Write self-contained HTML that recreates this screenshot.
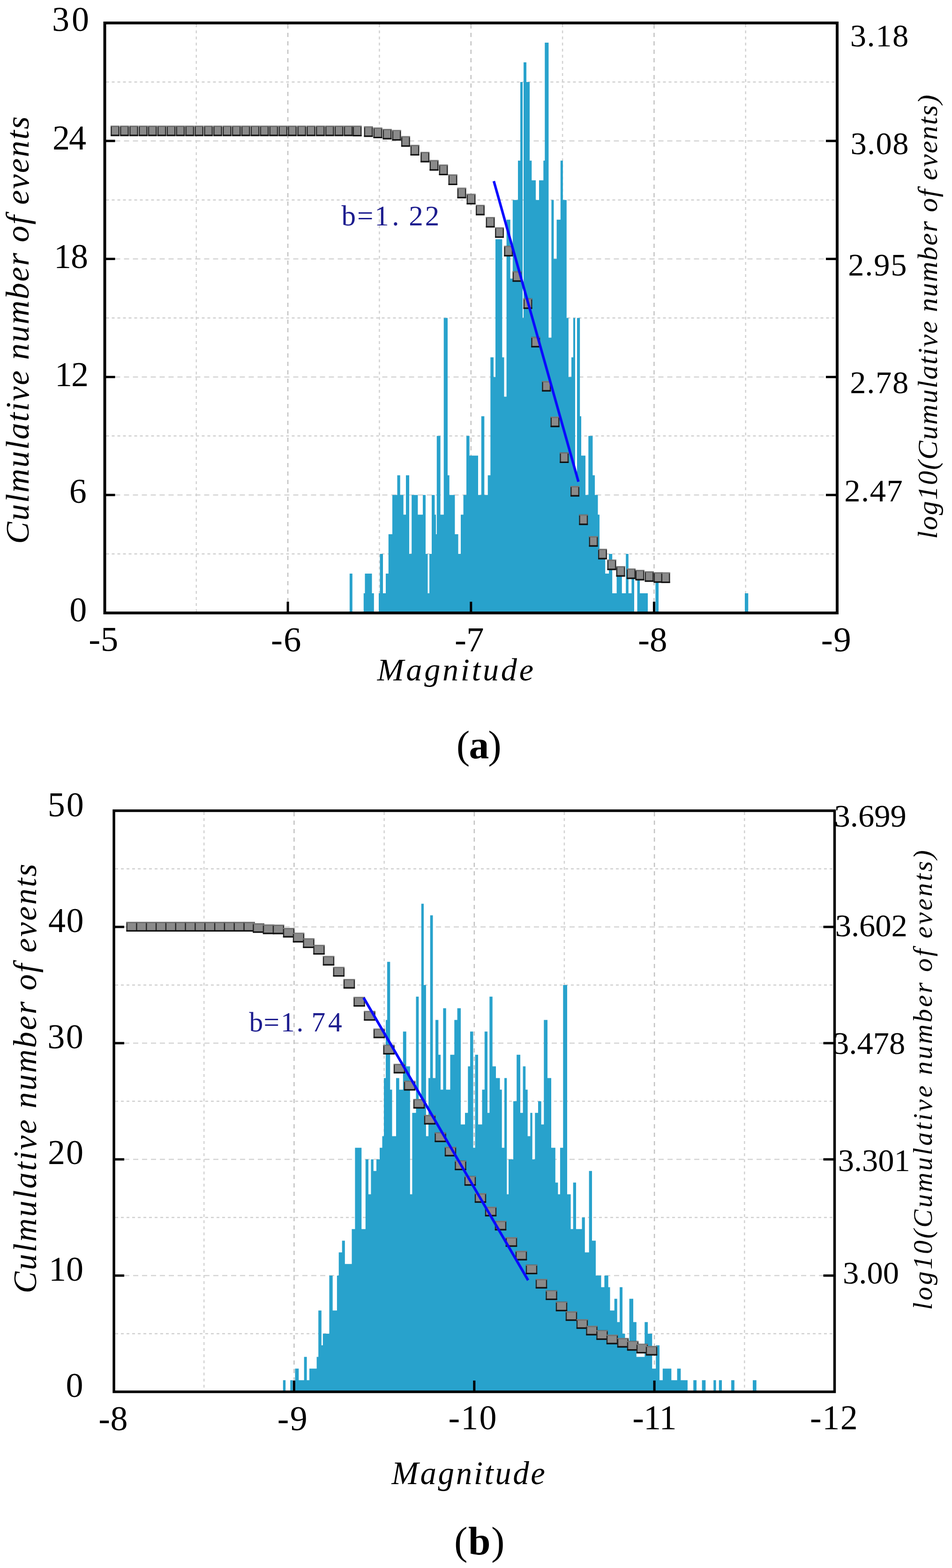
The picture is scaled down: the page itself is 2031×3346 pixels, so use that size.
<!DOCTYPE html>
<html><head><meta charset="utf-8"><title>Magnitude distribution (a) and (b)</title>
<style>
html,body{margin:0;padding:0;background:#fff;}
svg{display:block;}
</style></head><body>
<svg width="2031" height="3346" viewBox="0 0 2031 3346" font-family="'Liberation Serif', 'Times New Roman', serif">
<rect width="2031" height="3346" fill="#fff"/>
<g id="plot-a">
<line x1="226.5" y1="1182.1" x2="1783.0" y2="1182.1" stroke="#d0d0d0" stroke-width="2.5" stroke-dasharray="6 6"/>
<line x1="226.5" y1="1056.2" x2="1783.0" y2="1056.2" stroke="#d4d4d4" stroke-width="2.5" stroke-dasharray="11 8"/>
<line x1="226.5" y1="930.3" x2="1783.0" y2="930.3" stroke="#d0d0d0" stroke-width="2.5" stroke-dasharray="6 6"/>
<line x1="226.5" y1="804.4" x2="1783.0" y2="804.4" stroke="#d4d4d4" stroke-width="2.5" stroke-dasharray="11 8"/>
<line x1="226.5" y1="678.5" x2="1783.0" y2="678.5" stroke="#d0d0d0" stroke-width="2.5" stroke-dasharray="6 6"/>
<line x1="226.5" y1="552.6" x2="1783.0" y2="552.6" stroke="#d4d4d4" stroke-width="2.5" stroke-dasharray="11 8"/>
<line x1="226.5" y1="426.7" x2="1783.0" y2="426.7" stroke="#d0d0d0" stroke-width="2.5" stroke-dasharray="6 6"/>
<line x1="226.5" y1="300.8" x2="1783.0" y2="300.8" stroke="#d4d4d4" stroke-width="2.5" stroke-dasharray="11 8"/>
<line x1="226.5" y1="174.9" x2="1783.0" y2="174.9" stroke="#d0d0d0" stroke-width="2.5" stroke-dasharray="6 6"/>
<line x1="418.8" y1="52.0" x2="418.8" y2="1305.0" stroke="#d2d2d2" stroke-width="2.5" stroke-dasharray="6 7"/>
<line x1="614.1" y1="52.0" x2="614.1" y2="1305.0" stroke="#c2c2c2" stroke-width="2.5" stroke-dasharray="9 9"/>
<line x1="809.4" y1="52.0" x2="809.4" y2="1305.0" stroke="#d2d2d2" stroke-width="2.5" stroke-dasharray="6 7"/>
<line x1="1004.8" y1="52.0" x2="1004.8" y2="1305.0" stroke="#c2c2c2" stroke-width="2.5" stroke-dasharray="9 9"/>
<line x1="1200.1" y1="52.0" x2="1200.1" y2="1305.0" stroke="#d2d2d2" stroke-width="2.5" stroke-dasharray="6 7"/>
<line x1="1395.4" y1="52.0" x2="1395.4" y2="1305.0" stroke="#c2c2c2" stroke-width="2.5" stroke-dasharray="9 9"/>
<line x1="1590.7" y1="52.0" x2="1590.7" y2="1305.0" stroke="#d2d2d2" stroke-width="2.5" stroke-dasharray="6 7"/>
<path d="M745.9 1308.0V1224.1H751.8V1308.0ZM775.8 1308.0V1266.0H778.5V1308.0ZM778.5 1308.0V1224.1H793.5V1308.0ZM793.5 1308.0V1266.0H797.8V1308.0ZM808.0 1308.0V1266.0H810.5V1308.0ZM810.5 1308.0V1182.1H817.0V1308.0ZM817.0 1308.0V1266.0H823.0V1308.0ZM823.0 1308.0V1224.1H828.8V1308.0ZM828.8 1308.0V1140.1H837.0V1308.0ZM837.0 1308.0V1056.2H847.5V1308.0ZM847.5 1308.0V1014.2H853.7V1308.0ZM853.7 1308.0V1056.2H860.7V1308.0ZM860.7 1308.0V1098.2H866.0V1308.0ZM866.0 1308.0V1014.2H873.0V1308.0ZM873.0 1308.0V1182.1H878.2V1308.0ZM878.2 1308.0V1056.2H891.4V1308.0ZM891.4 1308.0V1098.2H902.0V1308.0ZM902.0 1308.0V1056.2H908.0V1308.0ZM908.0 1308.0V1182.1H912.5V1308.0ZM912.5 1308.0V1266.0H916.0V1308.0ZM916.0 1308.0V1182.1H921.0V1308.0ZM921.0 1308.0V1056.2H927.4V1308.0ZM927.4 1308.0V1098.2H930.0V1308.0ZM930.0 1308.0V1140.1H931.8V1308.0ZM931.8 1308.0V930.3H939.6V1308.0ZM939.6 1308.0V1098.2H946.7V1308.0ZM946.7 1308.0V678.5H955.0V1308.0ZM955.0 1308.0V1014.2H958.7V1308.0ZM958.7 1308.0V1056.2H970.4V1308.0ZM970.4 1308.0V1140.1H977.6V1308.0ZM977.6 1308.0V1182.1H983.0V1308.0ZM983.0 1308.0V1098.2H988.6V1308.0ZM988.6 1308.0V1056.2H995.0V1308.0ZM995.0 1308.0V930.3H1001.6V1308.0ZM1001.6 1308.0V972.3H1020.0V1308.0ZM1020.0 1308.0V1056.2H1026.8V1308.0ZM1026.8 1308.0V888.3H1033.3V1308.0ZM1033.3 1308.0V1056.2H1040.7V1308.0ZM1040.7 1308.0V1014.2H1046.3V1308.0ZM1046.3 1308.0V762.4H1053.0V1308.0ZM1053.0 1308.0V804.4H1057.0V1308.0ZM1057.0 1308.0V510.6H1071.4V1308.0ZM1071.4 1308.0V762.4H1075.5V1308.0ZM1075.5 1308.0V846.4H1080.6V1308.0ZM1080.6 1308.0V468.7H1088.7V1308.0ZM1088.7 1308.0V594.6H1093.8V1308.0ZM1093.8 1308.0V426.7H1105.0V1308.0ZM1105.0 1308.0V342.8H1110.0V1308.0ZM1110.0 1308.0V174.9H1115.0V1308.0ZM1115.0 1308.0V678.5H1117.0V1308.0ZM1117.0 1308.0V132.9H1123.0V1308.0ZM1123.0 1308.0V174.9H1130.0V1308.0ZM1130.0 1308.0V342.8H1134.3V1308.0ZM1134.3 1308.0V384.7H1143.0V1308.0ZM1143.0 1308.0V426.7H1150.0V1308.0ZM1150.0 1308.0V384.7H1159.3V1308.0ZM1159.3 1308.0V342.8H1162.3V1308.0ZM1162.3 1308.0V91.0H1170.4V1308.0ZM1170.4 1308.0V720.5H1176.4V1308.0ZM1176.4 1308.0V426.7H1181.4V1308.0ZM1181.4 1308.0V552.6H1187.6V1308.0ZM1187.6 1308.0V468.7H1195.8V1308.0ZM1195.8 1308.0V342.8H1200.9V1308.0ZM1200.9 1308.0V426.7H1208.8V1308.0ZM1208.8 1308.0V678.5H1212.9V1308.0ZM1212.9 1308.0V804.4H1219.0V1308.0ZM1219.0 1308.0V762.4H1223.0V1308.0ZM1223.0 1308.0V678.5H1227.0V1308.0ZM1227.0 1308.0V1014.2H1231.0V1308.0ZM1231.0 1308.0V678.5H1237.2V1308.0ZM1237.2 1308.0V888.3H1240.0V1308.0ZM1240.0 1308.0V972.3H1249.0V1308.0ZM1249.0 1308.0V1056.2H1255.3V1308.0ZM1255.3 1308.0V930.3H1264.4V1308.0ZM1264.4 1308.0V1014.2H1269.0V1308.0ZM1269.0 1308.0V1056.2H1275.5V1308.0ZM1275.5 1308.0V1098.2H1279.0V1308.0ZM1279.0 1308.0V1182.1H1291.2V1308.0ZM1291.2 1308.0V1224.1H1299.0V1308.0ZM1299.0 1308.0V1182.1H1306.2V1308.0ZM1306.2 1308.0V1266.0H1315.6V1308.0ZM1315.6 1308.0V1224.1H1326.8V1308.0ZM1326.8 1308.0V1266.0H1335.2V1308.0ZM1335.2 1308.0V1182.1H1340.8V1308.0ZM1340.8 1308.0V1266.0H1347.4V1308.0ZM1347.4 1308.0V1224.1H1353.0V1308.0ZM1359.5 1308.0V1224.1H1365.0V1308.0ZM1365.0 1308.0V1266.0H1382.0V1308.0ZM1398.4 1308.0V1224.1H1405.0V1308.0ZM1589.0 1308.0V1266.0H1596.3V1308.0Z" fill="#28a2cc"/>
<g><rect x="237.3" y="269.2" width="16.5" height="19.5" fill="#8a8a8a" stroke="#262626" stroke-width="2.4"/><path d="M236.2 269.2H255.0" stroke="#7a7a7a" stroke-width="2.4"/><path d="M236.2 289.1H255.0" stroke="#111" stroke-width="3"/><rect x="257.2" y="269.2" width="16.5" height="19.5" fill="#8a8a8a" stroke="#262626" stroke-width="2.4"/><path d="M256.1 269.2H274.9" stroke="#7a7a7a" stroke-width="2.4"/><path d="M256.1 289.1H274.9" stroke="#111" stroke-width="3"/><rect x="277.1" y="269.2" width="16.5" height="19.5" fill="#8a8a8a" stroke="#262626" stroke-width="2.4"/><path d="M275.9 269.2H294.8" stroke="#7a7a7a" stroke-width="2.4"/><path d="M275.9 289.1H294.8" stroke="#111" stroke-width="3"/><rect x="297.1" y="269.2" width="16.5" height="19.5" fill="#8a8a8a" stroke="#262626" stroke-width="2.4"/><path d="M295.9 269.2H314.8" stroke="#7a7a7a" stroke-width="2.4"/><path d="M295.9 289.1H314.8" stroke="#111" stroke-width="3"/><rect x="316.9" y="269.2" width="16.5" height="19.5" fill="#8a8a8a" stroke="#262626" stroke-width="2.4"/><path d="M315.8 269.2H334.6" stroke="#7a7a7a" stroke-width="2.4"/><path d="M315.8 289.1H334.6" stroke="#111" stroke-width="3"/><rect x="336.9" y="269.2" width="16.5" height="19.5" fill="#8a8a8a" stroke="#262626" stroke-width="2.4"/><path d="M335.7 269.2H354.6" stroke="#7a7a7a" stroke-width="2.4"/><path d="M335.7 289.1H354.6" stroke="#111" stroke-width="3"/><rect x="356.8" y="269.2" width="16.5" height="19.5" fill="#8a8a8a" stroke="#262626" stroke-width="2.4"/><path d="M355.6 269.2H374.4" stroke="#7a7a7a" stroke-width="2.4"/><path d="M355.6 289.1H374.4" stroke="#111" stroke-width="3"/><rect x="376.6" y="269.2" width="16.5" height="19.5" fill="#8a8a8a" stroke="#262626" stroke-width="2.4"/><path d="M375.4 269.2H394.3" stroke="#7a7a7a" stroke-width="2.4"/><path d="M375.4 289.1H394.3" stroke="#111" stroke-width="3"/><rect x="396.5" y="269.2" width="16.5" height="19.5" fill="#8a8a8a" stroke="#262626" stroke-width="2.4"/><path d="M395.3 269.2H414.2" stroke="#7a7a7a" stroke-width="2.4"/><path d="M395.3 289.1H414.2" stroke="#111" stroke-width="3"/><rect x="416.4" y="269.2" width="16.5" height="19.5" fill="#8a8a8a" stroke="#262626" stroke-width="2.4"/><path d="M415.2 269.2H434.1" stroke="#7a7a7a" stroke-width="2.4"/><path d="M415.2 289.1H434.1" stroke="#111" stroke-width="3"/><rect x="436.4" y="269.2" width="16.5" height="19.5" fill="#8a8a8a" stroke="#262626" stroke-width="2.4"/><path d="M435.2 269.2H454.1" stroke="#7a7a7a" stroke-width="2.4"/><path d="M435.2 289.1H454.1" stroke="#111" stroke-width="3"/><rect x="456.2" y="269.2" width="16.5" height="19.5" fill="#8a8a8a" stroke="#262626" stroke-width="2.4"/><path d="M455.1 269.2H473.9" stroke="#7a7a7a" stroke-width="2.4"/><path d="M455.1 289.1H473.9" stroke="#111" stroke-width="3"/><rect x="476.1" y="269.2" width="16.5" height="19.5" fill="#8a8a8a" stroke="#262626" stroke-width="2.4"/><path d="M474.9 269.2H493.8" stroke="#7a7a7a" stroke-width="2.4"/><path d="M474.9 289.1H493.8" stroke="#111" stroke-width="3"/><rect x="496.0" y="269.2" width="16.5" height="19.5" fill="#8a8a8a" stroke="#262626" stroke-width="2.4"/><path d="M494.8 269.2H513.8" stroke="#7a7a7a" stroke-width="2.4"/><path d="M494.8 289.1H513.8" stroke="#111" stroke-width="3"/><rect x="515.9" y="269.2" width="16.5" height="19.5" fill="#8a8a8a" stroke="#262626" stroke-width="2.4"/><path d="M514.7 269.2H533.6" stroke="#7a7a7a" stroke-width="2.4"/><path d="M514.7 289.1H533.6" stroke="#111" stroke-width="3"/><rect x="535.9" y="269.2" width="16.5" height="19.5" fill="#8a8a8a" stroke="#262626" stroke-width="2.4"/><path d="M534.6 269.2H553.6" stroke="#7a7a7a" stroke-width="2.4"/><path d="M534.6 289.1H553.6" stroke="#111" stroke-width="3"/><rect x="555.8" y="269.2" width="16.5" height="19.5" fill="#8a8a8a" stroke="#262626" stroke-width="2.4"/><path d="M554.5 269.2H573.5" stroke="#7a7a7a" stroke-width="2.4"/><path d="M554.5 289.1H573.5" stroke="#111" stroke-width="3"/><rect x="575.6" y="269.2" width="16.5" height="19.5" fill="#8a8a8a" stroke="#262626" stroke-width="2.4"/><path d="M574.4 269.2H593.4" stroke="#7a7a7a" stroke-width="2.4"/><path d="M574.4 289.1H593.4" stroke="#111" stroke-width="3"/><rect x="595.5" y="269.2" width="16.5" height="19.5" fill="#8a8a8a" stroke="#262626" stroke-width="2.4"/><path d="M594.3 269.2H613.2" stroke="#7a7a7a" stroke-width="2.4"/><path d="M594.3 289.1H613.2" stroke="#111" stroke-width="3"/><rect x="615.4" y="269.2" width="16.5" height="19.5" fill="#8a8a8a" stroke="#262626" stroke-width="2.4"/><path d="M614.2 269.2H633.1" stroke="#7a7a7a" stroke-width="2.4"/><path d="M614.2 289.1H633.1" stroke="#111" stroke-width="3"/><rect x="635.4" y="269.2" width="16.5" height="19.5" fill="#8a8a8a" stroke="#262626" stroke-width="2.4"/><path d="M634.1 269.2H653.1" stroke="#7a7a7a" stroke-width="2.4"/><path d="M634.1 289.1H653.1" stroke="#111" stroke-width="3"/><rect x="655.2" y="269.2" width="16.5" height="19.5" fill="#8a8a8a" stroke="#262626" stroke-width="2.4"/><path d="M654.0 269.2H673.0" stroke="#7a7a7a" stroke-width="2.4"/><path d="M654.0 289.1H673.0" stroke="#111" stroke-width="3"/><rect x="675.1" y="269.2" width="16.5" height="19.5" fill="#8a8a8a" stroke="#262626" stroke-width="2.4"/><path d="M673.9 269.2H692.9" stroke="#7a7a7a" stroke-width="2.4"/><path d="M673.9 289.1H692.9" stroke="#111" stroke-width="3"/><rect x="695.0" y="269.2" width="16.5" height="19.5" fill="#8a8a8a" stroke="#262626" stroke-width="2.4"/><path d="M693.8 269.2H712.8" stroke="#7a7a7a" stroke-width="2.4"/><path d="M693.8 289.1H712.8" stroke="#111" stroke-width="3"/><rect x="714.9" y="269.2" width="16.5" height="19.5" fill="#8a8a8a" stroke="#262626" stroke-width="2.4"/><path d="M713.7 269.2H732.6" stroke="#7a7a7a" stroke-width="2.4"/><path d="M713.7 289.1H732.6" stroke="#111" stroke-width="3"/><rect x="734.8" y="269.2" width="16.5" height="19.5" fill="#8a8a8a" stroke="#262626" stroke-width="2.4"/><path d="M733.6 269.2H752.5" stroke="#7a7a7a" stroke-width="2.4"/><path d="M733.6 289.1H752.5" stroke="#111" stroke-width="3"/><rect x="753.8" y="269.6" width="16.5" height="19.5" fill="#8a8a8a" stroke="#262626" stroke-width="2.4"/><path d="M752.5 269.6H771.5" stroke="#7a7a7a" stroke-width="2.4"/><path d="M752.5 289.5H771.5" stroke="#111" stroke-width="3"/><rect x="777.8" y="270.9" width="16.5" height="19.5" fill="#8a8a8a" stroke="#262626" stroke-width="2.4"/><path d="M776.5 270.9H795.5" stroke="#7a7a7a" stroke-width="2.4"/><path d="M776.5 290.8H795.5" stroke="#111" stroke-width="3"/><rect x="797.8" y="273.6" width="16.5" height="19.5" fill="#8a8a8a" stroke="#262626" stroke-width="2.4"/><path d="M796.5 273.6H815.5" stroke="#7a7a7a" stroke-width="2.4"/><path d="M796.5 293.5H815.5" stroke="#111" stroke-width="3"/><rect x="817.8" y="276.2" width="16.5" height="19.5" fill="#8a8a8a" stroke="#262626" stroke-width="2.4"/><path d="M816.5 276.2H835.5" stroke="#7a7a7a" stroke-width="2.4"/><path d="M816.5 296.1H835.5" stroke="#111" stroke-width="3"/><rect x="837.8" y="278.8" width="16.5" height="19.5" fill="#8a8a8a" stroke="#262626" stroke-width="2.4"/><path d="M836.5 278.8H855.5" stroke="#7a7a7a" stroke-width="2.4"/><path d="M836.5 298.6H855.5" stroke="#111" stroke-width="3"/><rect x="857.1" y="291.9" width="16.5" height="19.5" fill="#8a8a8a" stroke="#262626" stroke-width="2.4"/><path d="M855.9 291.9H874.9" stroke="#7a7a7a" stroke-width="2.4"/><path d="M855.9 311.8H874.9" stroke="#111" stroke-width="3"/><rect x="876.8" y="310.6" width="16.5" height="19.5" fill="#8a8a8a" stroke="#262626" stroke-width="2.4"/><path d="M875.5 310.6H894.5" stroke="#7a7a7a" stroke-width="2.4"/><path d="M875.5 330.4H894.5" stroke="#111" stroke-width="3"/><rect x="898.4" y="325.2" width="16.5" height="19.5" fill="#8a8a8a" stroke="#262626" stroke-width="2.4"/><path d="M897.1 325.2H916.1" stroke="#7a7a7a" stroke-width="2.4"/><path d="M897.1 345.1H916.1" stroke="#111" stroke-width="3"/><rect x="917.8" y="342.9" width="16.5" height="19.5" fill="#8a8a8a" stroke="#262626" stroke-width="2.4"/><path d="M916.5 342.9H935.5" stroke="#7a7a7a" stroke-width="2.4"/><path d="M916.5 362.8H935.5" stroke="#111" stroke-width="3"/><rect x="937.8" y="352.6" width="16.5" height="19.5" fill="#8a8a8a" stroke="#262626" stroke-width="2.4"/><path d="M936.5 352.6H955.5" stroke="#7a7a7a" stroke-width="2.4"/><path d="M936.5 372.5H955.5" stroke="#111" stroke-width="3"/><rect x="957.8" y="373.6" width="16.5" height="19.5" fill="#8a8a8a" stroke="#262626" stroke-width="2.4"/><path d="M956.5 373.6H975.5" stroke="#7a7a7a" stroke-width="2.4"/><path d="M956.5 393.5H975.5" stroke="#111" stroke-width="3"/><rect x="976.8" y="401.9" width="16.5" height="19.5" fill="#8a8a8a" stroke="#262626" stroke-width="2.4"/><path d="M975.5 401.9H994.5" stroke="#7a7a7a" stroke-width="2.4"/><path d="M975.5 421.8H994.5" stroke="#111" stroke-width="3"/><rect x="996.8" y="414.9" width="16.5" height="19.5" fill="#8a8a8a" stroke="#262626" stroke-width="2.4"/><path d="M995.5 414.9H1014.5" stroke="#7a7a7a" stroke-width="2.4"/><path d="M995.5 434.8H1014.5" stroke="#111" stroke-width="3"/><rect x="1016.2" y="438.2" width="16.5" height="19.5" fill="#8a8a8a" stroke="#262626" stroke-width="2.4"/><path d="M1015.0 438.2H1034.0" stroke="#7a7a7a" stroke-width="2.4"/><path d="M1015.0 458.1H1034.0" stroke="#111" stroke-width="3"/><rect x="1037.8" y="464.2" width="16.5" height="19.5" fill="#8a8a8a" stroke="#262626" stroke-width="2.4"/><path d="M1036.5 464.2H1055.5" stroke="#7a7a7a" stroke-width="2.4"/><path d="M1036.5 484.1H1055.5" stroke="#111" stroke-width="3"/><rect x="1057.3" y="486.2" width="16.5" height="19.5" fill="#8a8a8a" stroke="#262626" stroke-width="2.4"/><path d="M1056.1 486.2H1075.0" stroke="#7a7a7a" stroke-width="2.4"/><path d="M1056.1 506.1H1075.0" stroke="#111" stroke-width="3"/><rect x="1076.5" y="525.9" width="16.5" height="19.5" fill="#8a8a8a" stroke="#262626" stroke-width="2.4"/><path d="M1075.2 525.9H1094.2" stroke="#7a7a7a" stroke-width="2.4"/><path d="M1075.2 545.8H1094.2" stroke="#111" stroke-width="3"/><rect x="1094.8" y="580.0" width="16.5" height="19.5" fill="#8a8a8a" stroke="#262626" stroke-width="2.4"/><path d="M1093.5 580.0H1112.5" stroke="#7a7a7a" stroke-width="2.4"/><path d="M1093.5 599.9H1112.5" stroke="#111" stroke-width="3"/><rect x="1117.8" y="637.9" width="16.5" height="19.5" fill="#8a8a8a" stroke="#262626" stroke-width="2.4"/><path d="M1116.5 637.9H1135.5" stroke="#7a7a7a" stroke-width="2.4"/><path d="M1116.5 657.8H1135.5" stroke="#111" stroke-width="3"/><rect x="1134.5" y="720.0" width="16.5" height="19.5" fill="#8a8a8a" stroke="#262626" stroke-width="2.4"/><path d="M1133.3 720.0H1152.2" stroke="#7a7a7a" stroke-width="2.4"/><path d="M1133.3 739.9H1152.2" stroke="#111" stroke-width="3"/><rect x="1157.5" y="814.2" width="16.5" height="19.5" fill="#8a8a8a" stroke="#262626" stroke-width="2.4"/><path d="M1156.2 814.2H1175.2" stroke="#7a7a7a" stroke-width="2.4"/><path d="M1156.2 834.1H1175.2" stroke="#111" stroke-width="3"/><rect x="1175.8" y="890.2" width="16.5" height="19.5" fill="#8a8a8a" stroke="#262626" stroke-width="2.4"/><path d="M1174.5 890.2H1193.5" stroke="#7a7a7a" stroke-width="2.4"/><path d="M1174.5 910.1H1193.5" stroke="#111" stroke-width="3"/><rect x="1195.5" y="966.6" width="16.5" height="19.5" fill="#8a8a8a" stroke="#262626" stroke-width="2.4"/><path d="M1194.2 966.6H1213.2" stroke="#7a7a7a" stroke-width="2.4"/><path d="M1194.2 986.5H1213.2" stroke="#111" stroke-width="3"/><rect x="1218.3" y="1038.2" width="16.5" height="19.5" fill="#8a8a8a" stroke="#262626" stroke-width="2.4"/><path d="M1217.1 1038.2H1236.0" stroke="#7a7a7a" stroke-width="2.4"/><path d="M1217.1 1058.2H1236.0" stroke="#111" stroke-width="3"/><rect x="1236.5" y="1099.0" width="16.5" height="19.5" fill="#8a8a8a" stroke="#262626" stroke-width="2.4"/><path d="M1235.3 1099.0H1254.2" stroke="#7a7a7a" stroke-width="2.4"/><path d="M1235.3 1119.0H1254.2" stroke="#111" stroke-width="3"/><rect x="1257.8" y="1145.2" width="16.5" height="19.5" fill="#8a8a8a" stroke="#262626" stroke-width="2.4"/><path d="M1256.5 1145.2H1275.5" stroke="#7a7a7a" stroke-width="2.4"/><path d="M1256.5 1165.2H1275.5" stroke="#111" stroke-width="3"/><rect x="1277.2" y="1172.2" width="16.5" height="19.5" fill="#8a8a8a" stroke="#262626" stroke-width="2.4"/><path d="M1276.0 1172.2H1295.0" stroke="#7a7a7a" stroke-width="2.4"/><path d="M1276.0 1192.2H1295.0" stroke="#111" stroke-width="3"/><rect x="1296.8" y="1195.2" width="16.5" height="19.5" fill="#8a8a8a" stroke="#262626" stroke-width="2.4"/><path d="M1295.5 1195.2H1314.5" stroke="#7a7a7a" stroke-width="2.4"/><path d="M1295.5 1215.2H1314.5" stroke="#111" stroke-width="3"/><rect x="1315.8" y="1209.2" width="16.5" height="19.5" fill="#8a8a8a" stroke="#262626" stroke-width="2.4"/><path d="M1314.5 1209.2H1333.5" stroke="#7a7a7a" stroke-width="2.4"/><path d="M1314.5 1229.2H1333.5" stroke="#111" stroke-width="3"/><rect x="1338.2" y="1214.2" width="16.5" height="19.5" fill="#8a8a8a" stroke="#262626" stroke-width="2.4"/><path d="M1337.0 1214.2H1356.0" stroke="#7a7a7a" stroke-width="2.4"/><path d="M1337.0 1234.2H1356.0" stroke="#111" stroke-width="3"/><rect x="1356.8" y="1217.2" width="16.5" height="19.5" fill="#8a8a8a" stroke="#262626" stroke-width="2.4"/><path d="M1355.5 1217.2H1374.5" stroke="#7a7a7a" stroke-width="2.4"/><path d="M1355.5 1237.2H1374.5" stroke="#111" stroke-width="3"/><rect x="1376.8" y="1220.2" width="16.5" height="19.5" fill="#8a8a8a" stroke="#262626" stroke-width="2.4"/><path d="M1375.5 1220.2H1394.5" stroke="#7a7a7a" stroke-width="2.4"/><path d="M1375.5 1240.2H1394.5" stroke="#111" stroke-width="3"/><rect x="1395.8" y="1222.2" width="16.5" height="19.5" fill="#8a8a8a" stroke="#262626" stroke-width="2.4"/><path d="M1394.5 1222.2H1413.5" stroke="#7a7a7a" stroke-width="2.4"/><path d="M1394.5 1242.2H1413.5" stroke="#111" stroke-width="3"/><rect x="1411.8" y="1222.8" width="16.5" height="19.5" fill="#8a8a8a" stroke="#262626" stroke-width="2.4"/><path d="M1410.5 1222.8H1429.5" stroke="#7a7a7a" stroke-width="2.4"/><path d="M1410.5 1242.7H1429.5" stroke="#111" stroke-width="3"/></g>
<line x1="1053.5" y1="386.4" x2="1234" y2="1028" stroke="#0a0aff" stroke-width="5.5"/>
<path d="M223.5 1056.2H245.5M1786.0 1056.2H1762.0M223.5 804.4H245.5M1786.0 804.4H1762.0M223.5 552.6H245.5M1786.0 552.6H1762.0M223.5 300.8H245.5M1786.0 300.8H1762.0M614.1 1308.0V1284.0M1004.8 1308.0V1284.0M1395.4 1308.0V1284.0" stroke="#000" stroke-width="5" fill="none"/>
<text x="111.0" y="66.0" font-size="74.0" letter-spacing="5.0">30</text>
<text x="112.0" y="319.0" font-size="74.0" letter-spacing="-2.0">24</text>
<text x="115.0" y="571.5" font-size="74.0" letter-spacing="-1.0">18</text>
<text x="117.0" y="824.0" font-size="74.0" letter-spacing="-2.0">12</text>
<text x="147.85" y="1073.3" font-size="74.0">6</text>
<text x="148.35" y="1325.5" font-size="74.0">0</text>
<text x="189.25" y="1389.25" font-size="75.0" letter-spacing="0.5">-5</text>
<text x="578.0" y="1389.75" font-size="75.0" letter-spacing="2.0">-6</text>
<text x="970.0" y="1389.7" font-size="75.0">-7</text>
<text x="1361.0" y="1389.7" font-size="75.0">-8</text>
<text x="1751.75" y="1389.7" font-size="75.0" letter-spacing="1.5">-9</text>
<text x="1813.8" y="98.7" font-size="68.5" letter-spacing="1.53">3.18</text>
<text x="1814.4" y="328.9" font-size="68.5" letter-spacing="1.4">3.08</text>
<text x="1809.35" y="587.8" font-size="68.5" letter-spacing="1.77">2.95</text>
<text x="1813.3" y="839.4" font-size="68.5" letter-spacing="1.67">2.78</text>
<text x="1801.25" y="1069.85" font-size="68.5" letter-spacing="1.5">2.47</text>
<text x="804.8" y="1452.3" font-size="68.22" font-style="italic" letter-spacing="4.7">Magnitude</text>
<text x="973.85" y="1617.8" font-size="85.56" letter-spacing="-1.95">(<tspan font-weight="bold">a</tspan>)</text>
<text x="61.5" y="1160.65" font-size="70.65" font-style="italic" letter-spacing="2.48" transform="rotate(-90 61.5 1160.65)">Culmulative number of events</text>
<text x="1998.85" y="1150.0" font-size="60.11" font-style="italic" letter-spacing="2.06" transform="rotate(-90 1998.85 1150.0)">log10(Cumulative number of events)</text>
<text x="728.5 762.0 799.3 836.2 872.2 906.8" y="481.0" font-size="61.0" fill="#1c1c8e">b=1.22</text>
<rect x="223.5" y="49.0" width="1562.5" height="1259.0" fill="none" stroke="#000" stroke-width="6.0"/>
</g>
<g id="plot-b">
<line x1="246.0" y1="2846.0" x2="1777.5" y2="2846.0" stroke="#d0d0d0" stroke-width="2.5" stroke-dasharray="6 6"/>
<line x1="246.0" y1="2722.0" x2="1777.5" y2="2722.0" stroke="#d4d4d4" stroke-width="2.5" stroke-dasharray="11 8"/>
<line x1="246.0" y1="2598.0" x2="1777.5" y2="2598.0" stroke="#d0d0d0" stroke-width="2.5" stroke-dasharray="6 6"/>
<line x1="246.0" y1="2474.0" x2="1777.5" y2="2474.0" stroke="#d4d4d4" stroke-width="2.5" stroke-dasharray="11 8"/>
<line x1="246.0" y1="2350.0" x2="1777.5" y2="2350.0" stroke="#d0d0d0" stroke-width="2.5" stroke-dasharray="6 6"/>
<line x1="246.0" y1="2226.0" x2="1777.5" y2="2226.0" stroke="#d4d4d4" stroke-width="2.5" stroke-dasharray="11 8"/>
<line x1="246.0" y1="2102.0" x2="1777.5" y2="2102.0" stroke="#d0d0d0" stroke-width="2.5" stroke-dasharray="6 6"/>
<line x1="246.0" y1="1978.0" x2="1777.5" y2="1978.0" stroke="#d4d4d4" stroke-width="2.5" stroke-dasharray="11 8"/>
<line x1="246.0" y1="1854.0" x2="1777.5" y2="1854.0" stroke="#d0d0d0" stroke-width="2.5" stroke-dasharray="6 6"/>
<line x1="435.2" y1="1733.0" x2="435.2" y2="2967.0" stroke="#d2d2d2" stroke-width="2.5" stroke-dasharray="6 7"/>
<line x1="627.4" y1="1733.0" x2="627.4" y2="2967.0" stroke="#c2c2c2" stroke-width="2.5" stroke-dasharray="9 9"/>
<line x1="819.6" y1="1733.0" x2="819.6" y2="2967.0" stroke="#d2d2d2" stroke-width="2.5" stroke-dasharray="6 7"/>
<line x1="1011.8" y1="1733.0" x2="1011.8" y2="2967.0" stroke="#c2c2c2" stroke-width="2.5" stroke-dasharray="9 9"/>
<line x1="1203.9" y1="1733.0" x2="1203.9" y2="2967.0" stroke="#d2d2d2" stroke-width="2.5" stroke-dasharray="6 7"/>
<line x1="1396.1" y1="1733.0" x2="1396.1" y2="2967.0" stroke="#c2c2c2" stroke-width="2.5" stroke-dasharray="9 9"/>
<line x1="1588.3" y1="1733.0" x2="1588.3" y2="2967.0" stroke="#d2d2d2" stroke-width="2.5" stroke-dasharray="6 7"/>
<path d="M603.8 2970.0V2945.2H609.2V2970.0ZM619.3 2970.0V2945.2H624.7V2970.0ZM629.5 2970.0V2920.4H637.3V2970.0ZM637.3 2970.0V2945.2H648.7V2970.0ZM648.7 2970.0V2895.6H654.6V2970.0ZM654.6 2970.0V2945.2H660.0V2970.0ZM660.0 2970.0V2920.4H675.6V2970.0ZM675.6 2970.0V2895.6H679.2V2970.0ZM679.2 2970.0V2796.4H685.8V2970.0ZM685.8 2970.0V2870.8H688.8V2970.0ZM688.8 2970.0V2846.0H702.5V2970.0ZM702.5 2970.0V2722.0H709.7V2970.0ZM709.7 2970.0V2796.4H718.9V2970.0ZM718.9 2970.0V2722.0H722.7V2970.0ZM722.7 2970.0V2672.4H729.7V2970.0ZM729.7 2970.0V2647.6H735.8V2970.0ZM735.8 2970.0V2697.2H750.5V2970.0ZM750.5 2970.0V2622.8H757.4V2970.0ZM757.4 2970.0V2449.2H771.3V2970.0ZM771.3 2970.0V2622.8H779.8V2970.0ZM779.8 2970.0V2474.0H786.0V2970.0ZM786.0 2970.0V2548.4H791.4V2970.0ZM791.4 2970.0V2474.0H796.8V2970.0ZM796.8 2970.0V2498.8H803.0V2970.0ZM803.0 2970.0V2474.0H810.0V2970.0ZM810.0 2970.0V2449.2H815.5V2970.0ZM815.5 2970.0V2424.4H819.0V2970.0ZM819.0 2970.0V2300.4H823.0V2970.0ZM823.0 2970.0V2176.4H826.0V2970.0ZM826.0 2970.0V2052.4H832.3V2970.0ZM832.3 2970.0V2325.2H836.5V2970.0ZM836.5 2970.0V2424.4H845.0V2970.0ZM845.0 2970.0V2300.4H851.7V2970.0ZM851.7 2970.0V2325.2H859.8V2970.0ZM859.8 2970.0V2201.2H866.7V2970.0ZM866.7 2970.0V2275.6H874.8V2970.0ZM874.8 2970.0V2548.4H879.4V2970.0ZM879.4 2970.0V2374.8H887.5V2970.0ZM887.5 2970.0V2126.8H893.3V2970.0ZM893.3 2970.0V2350.0H898.8V2970.0ZM898.8 2970.0V1928.4H904.0V2970.0ZM904.0 2970.0V2102.0H908.9V2970.0ZM908.9 2970.0V2424.4H914.0V2970.0ZM914.0 2970.0V2300.4H917.7V2970.0ZM917.7 2970.0V1953.2H923.5V2970.0ZM923.5 2970.0V2300.4H929.0V2970.0ZM929.0 2970.0V2176.4H935.3V2970.0ZM935.3 2970.0V2250.8H940.0V2970.0ZM940.0 2970.0V2325.2H945.4V2970.0ZM945.4 2970.0V2151.6H951.7V2970.0ZM951.7 2970.0V2325.2H960.5V2970.0ZM960.5 2970.0V2250.8H969.3V2970.0ZM969.3 2970.0V2176.4H975.6V2970.0ZM975.6 2970.0V2151.6H983.0V2970.0ZM983.0 2970.0V2399.6H992.0V2970.0ZM992.0 2970.0V2374.8H998.3V2970.0ZM998.3 2970.0V2275.6H1003.0V2970.0ZM1003.0 2970.0V2201.2H1009.5V2970.0ZM1009.5 2970.0V2449.2H1013.7V2970.0ZM1013.7 2970.0V2250.8H1020.0V2970.0ZM1020.0 2970.0V2399.6H1028.5V2970.0ZM1028.5 2970.0V2325.2H1033.8V2970.0ZM1033.8 2970.0V2201.2H1040.0V2970.0ZM1040.0 2970.0V2374.8H1044.3V2970.0ZM1044.3 2970.0V2126.8H1050.7V2970.0ZM1050.7 2970.0V2275.6H1058.0V2970.0ZM1058.0 2970.0V2300.4H1066.5V2970.0ZM1066.5 2970.0V2325.2H1070.7V2970.0ZM1070.7 2970.0V2449.2H1076.0V2970.0ZM1076.0 2970.0V2300.4H1081.3V2970.0ZM1081.3 2970.0V2548.4H1085.0V2970.0ZM1085.0 2970.0V2474.0H1095.0V2970.0ZM1095.0 2970.0V2350.0H1102.2V2970.0ZM1102.2 2970.0V2250.8H1110.0V2970.0ZM1110.0 2970.0V2374.8H1115.6V2970.0ZM1115.6 2970.0V2275.6H1121.2V2970.0ZM1121.2 2970.0V2325.2H1125.7V2970.0ZM1125.7 2970.0V2424.4H1131.3V2970.0ZM1131.3 2970.0V2374.8H1135.7V2970.0ZM1135.7 2970.0V2474.0H1141.3V2970.0ZM1141.3 2970.0V2374.8H1148.0V2970.0ZM1148.0 2970.0V2350.0H1154.7V2970.0ZM1154.7 2970.0V2399.6H1160.3V2970.0ZM1160.3 2970.0V2176.4H1168.0V2970.0ZM1168.0 2970.0V2300.4H1176.0V2970.0ZM1176.0 2970.0V2449.2H1184.8V2970.0ZM1184.8 2970.0V2523.6H1190.4V2970.0ZM1190.4 2970.0V2548.4H1194.9V2970.0ZM1194.9 2970.0V2449.2H1201.3V2970.0ZM1201.3 2970.0V2102.0H1210.0V2970.0ZM1210.0 2970.0V2548.4H1217.6V2970.0ZM1217.6 2970.0V2622.8H1222.7V2970.0ZM1222.7 2970.0V2523.6H1229.0V2970.0ZM1229.0 2970.0V2622.8H1241.5V2970.0ZM1241.5 2970.0V2598.0H1247.8V2970.0ZM1247.8 2970.0V2672.4H1256.6V2970.0ZM1256.6 2970.0V2498.8H1263.0V2970.0ZM1263.0 2970.0V2647.6H1271.0V2970.0ZM1271.0 2970.0V2722.0H1282.5V2970.0ZM1282.5 2970.0V2746.8H1289.4V2970.0ZM1289.4 2970.0V2722.0H1297.7V2970.0ZM1297.7 2970.0V2746.8H1301.5V2970.0ZM1301.5 2970.0V2796.4H1310.7V2970.0ZM1310.7 2970.0V2771.6H1316.7V2970.0ZM1316.7 2970.0V2821.2H1322.0V2970.0ZM1322.0 2970.0V2746.8H1328.0V2970.0ZM1328.0 2970.0V2846.0H1333.5V2970.0ZM1333.5 2970.0V2870.8H1342.6V2970.0ZM1342.6 2970.0V2771.6H1351.0V2970.0ZM1351.0 2970.0V2821.2H1357.8V2970.0ZM1357.8 2970.0V2895.6H1375.3V2970.0ZM1375.3 2970.0V2821.2H1382.0V2970.0ZM1382.0 2970.0V2846.0H1391.3V2970.0ZM1391.3 2970.0V2920.4H1399.2V2970.0ZM1399.2 2970.0V2870.8H1407.0V2970.0ZM1407.0 2970.0V2945.2H1413.8V2970.0ZM1413.8 2970.0V2920.4H1432.3V2970.0ZM1432.3 2970.0V2945.2H1444.6V2970.0ZM1444.6 2970.0V2920.4H1452.3V2970.0ZM1452.3 2970.0V2945.2H1466.9V2970.0ZM1479.2 2970.0V2945.2H1486.0V2970.0ZM1497.6 2970.0V2945.2H1505.3V2970.0ZM1522.2 2970.0V2945.2H1527.6V2970.0ZM1533.8 2970.0V2945.2H1540.0V2970.0ZM1560.0 2970.0V2945.2H1566.8V2970.0ZM1606.0 2970.0V2945.2H1613.7V2970.0Z" fill="#28a2cc"/>
<g><rect x="270.6" y="1968.5" width="22" height="17.5" fill="#8a8a8a" stroke="#262626" stroke-width="2.4"/><path d="M269.4 1968.5H293.8" stroke="#7a7a7a" stroke-width="2.4"/><path d="M269.4 1986.5H293.8" stroke="#111" stroke-width="3"/><rect x="291.4" y="1968.5" width="22" height="17.5" fill="#8a8a8a" stroke="#262626" stroke-width="2.4"/><path d="M290.2 1968.5H314.6" stroke="#7a7a7a" stroke-width="2.4"/><path d="M290.2 1986.5H314.6" stroke="#111" stroke-width="3"/><rect x="312.3" y="1968.5" width="22" height="17.5" fill="#8a8a8a" stroke="#262626" stroke-width="2.4"/><path d="M311.1 1968.5H335.5" stroke="#7a7a7a" stroke-width="2.4"/><path d="M311.1 1986.5H335.5" stroke="#111" stroke-width="3"/><rect x="333.1" y="1968.5" width="22" height="17.5" fill="#8a8a8a" stroke="#262626" stroke-width="2.4"/><path d="M331.9 1968.5H356.3" stroke="#7a7a7a" stroke-width="2.4"/><path d="M331.9 1986.5H356.3" stroke="#111" stroke-width="3"/><rect x="353.9" y="1968.5" width="22" height="17.5" fill="#8a8a8a" stroke="#262626" stroke-width="2.4"/><path d="M352.7 1968.5H377.1" stroke="#7a7a7a" stroke-width="2.4"/><path d="M352.7 1986.5H377.1" stroke="#111" stroke-width="3"/><rect x="374.8" y="1968.5" width="22" height="17.5" fill="#8a8a8a" stroke="#262626" stroke-width="2.4"/><path d="M373.6 1968.5H397.9" stroke="#7a7a7a" stroke-width="2.4"/><path d="M373.6 1986.5H397.9" stroke="#111" stroke-width="3"/><rect x="395.6" y="1968.5" width="22" height="17.5" fill="#8a8a8a" stroke="#262626" stroke-width="2.4"/><path d="M394.4 1968.5H418.8" stroke="#7a7a7a" stroke-width="2.4"/><path d="M394.4 1986.5H418.8" stroke="#111" stroke-width="3"/><rect x="416.4" y="1968.5" width="22" height="17.5" fill="#8a8a8a" stroke="#262626" stroke-width="2.4"/><path d="M415.2 1968.5H439.6" stroke="#7a7a7a" stroke-width="2.4"/><path d="M415.2 1986.5H439.6" stroke="#111" stroke-width="3"/><rect x="437.2" y="1968.5" width="22" height="17.5" fill="#8a8a8a" stroke="#262626" stroke-width="2.4"/><path d="M436.0 1968.5H460.4" stroke="#7a7a7a" stroke-width="2.4"/><path d="M436.0 1986.5H460.4" stroke="#111" stroke-width="3"/><rect x="458.1" y="1968.5" width="22" height="17.5" fill="#8a8a8a" stroke="#262626" stroke-width="2.4"/><path d="M456.9 1968.5H481.3" stroke="#7a7a7a" stroke-width="2.4"/><path d="M456.9 1986.5H481.3" stroke="#111" stroke-width="3"/><rect x="478.9" y="1968.5" width="22" height="17.5" fill="#8a8a8a" stroke="#262626" stroke-width="2.4"/><path d="M477.7 1968.5H502.1" stroke="#7a7a7a" stroke-width="2.4"/><path d="M477.7 1986.5H502.1" stroke="#111" stroke-width="3"/><rect x="499.7" y="1968.5" width="22" height="17.5" fill="#8a8a8a" stroke="#262626" stroke-width="2.4"/><path d="M498.5 1968.5H522.9" stroke="#7a7a7a" stroke-width="2.4"/><path d="M498.5 1986.5H522.9" stroke="#111" stroke-width="3"/><rect x="520.6" y="1968.5" width="22" height="17.5" fill="#8a8a8a" stroke="#262626" stroke-width="2.4"/><path d="M519.4 1968.5H543.8" stroke="#7a7a7a" stroke-width="2.4"/><path d="M519.4 1986.5H543.8" stroke="#111" stroke-width="3"/><rect x="540.5" y="1971.2" width="22" height="17.5" fill="#8a8a8a" stroke="#262626" stroke-width="2.4"/><path d="M539.3 1971.2H563.7" stroke="#7a7a7a" stroke-width="2.4"/><path d="M539.3 1989.2H563.7" stroke="#111" stroke-width="3"/><rect x="562.0" y="1974.0" width="22" height="17.5" fill="#8a8a8a" stroke="#262626" stroke-width="2.4"/><path d="M560.8 1974.0H585.2" stroke="#7a7a7a" stroke-width="2.4"/><path d="M560.8 1992.0H585.2" stroke="#111" stroke-width="3"/><rect x="583.0" y="1974.2" width="22" height="17.5" fill="#8a8a8a" stroke="#262626" stroke-width="2.4"/><path d="M581.8 1974.2H606.2" stroke="#7a7a7a" stroke-width="2.4"/><path d="M581.8 1992.2H606.2" stroke="#111" stroke-width="3"/><rect x="605.0" y="1981.2" width="22" height="17.5" fill="#8a8a8a" stroke="#262626" stroke-width="2.4"/><path d="M603.8 1981.2H628.2" stroke="#7a7a7a" stroke-width="2.4"/><path d="M603.8 1999.2H628.2" stroke="#111" stroke-width="3"/><rect x="626.0" y="1991.8" width="22" height="17.5" fill="#8a8a8a" stroke="#262626" stroke-width="2.4"/><path d="M624.8 1991.8H649.2" stroke="#7a7a7a" stroke-width="2.4"/><path d="M624.8 2009.8H649.2" stroke="#111" stroke-width="3"/><rect x="647.5" y="2003.7" width="22" height="17.5" fill="#8a8a8a" stroke="#262626" stroke-width="2.4"/><path d="M646.3 2003.7H670.7" stroke="#7a7a7a" stroke-width="2.4"/><path d="M646.3 2021.6H670.7" stroke="#111" stroke-width="3"/><rect x="669.5" y="2017.7" width="22" height="17.5" fill="#8a8a8a" stroke="#262626" stroke-width="2.4"/><path d="M668.3 2017.7H692.7" stroke="#7a7a7a" stroke-width="2.4"/><path d="M668.3 2035.6H692.7" stroke="#111" stroke-width="3"/><rect x="690.0" y="2041.1" width="22" height="17.5" fill="#8a8a8a" stroke="#262626" stroke-width="2.4"/><path d="M688.8 2041.1H713.2" stroke="#7a7a7a" stroke-width="2.4"/><path d="M688.8 2059.0H713.2" stroke="#111" stroke-width="3"/><rect x="711.8" y="2064.7" width="22" height="17.5" fill="#8a8a8a" stroke="#262626" stroke-width="2.4"/><path d="M710.6 2064.7H735.0" stroke="#7a7a7a" stroke-width="2.4"/><path d="M710.6 2082.6H735.0" stroke="#111" stroke-width="3"/><rect x="734.0" y="2090.2" width="22" height="17.5" fill="#8a8a8a" stroke="#262626" stroke-width="2.4"/><path d="M732.8 2090.2H757.2" stroke="#7a7a7a" stroke-width="2.4"/><path d="M732.8 2108.2H757.2" stroke="#111" stroke-width="3"/><rect x="755.5" y="2128.7" width="22" height="17.5" fill="#8a8a8a" stroke="#262626" stroke-width="2.4"/><path d="M754.3 2128.7H778.7" stroke="#7a7a7a" stroke-width="2.4"/><path d="M754.3 2146.6H778.7" stroke="#111" stroke-width="3"/><rect x="777.6" y="2158.7" width="22" height="17.5" fill="#8a8a8a" stroke="#262626" stroke-width="2.4"/><path d="M776.4 2158.7H800.8" stroke="#7a7a7a" stroke-width="2.4"/><path d="M776.4 2176.6H800.8" stroke="#111" stroke-width="3"/><rect x="798.0" y="2196.1" width="22" height="17.5" fill="#8a8a8a" stroke="#262626" stroke-width="2.4"/><path d="M796.8 2196.1H821.2" stroke="#7a7a7a" stroke-width="2.4"/><path d="M796.8 2214.0H821.2" stroke="#111" stroke-width="3"/><rect x="818.7" y="2230.8" width="22" height="17.5" fill="#8a8a8a" stroke="#262626" stroke-width="2.4"/><path d="M817.5 2230.8H841.9" stroke="#7a7a7a" stroke-width="2.4"/><path d="M817.5 2248.8H841.9" stroke="#111" stroke-width="3"/><rect x="841.0" y="2271.2" width="22" height="17.5" fill="#8a8a8a" stroke="#262626" stroke-width="2.4"/><path d="M839.8 2271.2H864.2" stroke="#7a7a7a" stroke-width="2.4"/><path d="M839.8 2289.2H864.2" stroke="#111" stroke-width="3"/><rect x="863.0" y="2307.8" width="22" height="17.5" fill="#8a8a8a" stroke="#262626" stroke-width="2.4"/><path d="M861.8 2307.8H886.2" stroke="#7a7a7a" stroke-width="2.4"/><path d="M861.8 2325.8H886.2" stroke="#111" stroke-width="3"/><rect x="883.0" y="2346.2" width="22" height="17.5" fill="#8a8a8a" stroke="#262626" stroke-width="2.4"/><path d="M881.8 2346.2H906.2" stroke="#7a7a7a" stroke-width="2.4"/><path d="M881.8 2364.2H906.2" stroke="#111" stroke-width="3"/><rect x="906.0" y="2380.2" width="22" height="17.5" fill="#8a8a8a" stroke="#262626" stroke-width="2.4"/><path d="M904.8 2380.2H929.2" stroke="#7a7a7a" stroke-width="2.4"/><path d="M904.8 2398.2H929.2" stroke="#111" stroke-width="3"/><rect x="928.6" y="2417.8" width="22" height="17.5" fill="#8a8a8a" stroke="#262626" stroke-width="2.4"/><path d="M927.4 2417.8H951.8" stroke="#7a7a7a" stroke-width="2.4"/><path d="M927.4 2435.8H951.8" stroke="#111" stroke-width="3"/><rect x="950.0" y="2448.2" width="22" height="17.5" fill="#8a8a8a" stroke="#262626" stroke-width="2.4"/><path d="M948.8 2448.2H973.2" stroke="#7a7a7a" stroke-width="2.4"/><path d="M948.8 2466.2H973.2" stroke="#111" stroke-width="3"/><rect x="971.5" y="2477.8" width="22" height="17.5" fill="#8a8a8a" stroke="#262626" stroke-width="2.4"/><path d="M970.3 2477.8H994.7" stroke="#7a7a7a" stroke-width="2.4"/><path d="M970.3 2495.7H994.7" stroke="#111" stroke-width="3"/><rect x="992.0" y="2510.8" width="22" height="17.5" fill="#8a8a8a" stroke="#262626" stroke-width="2.4"/><path d="M990.8 2510.8H1015.2" stroke="#7a7a7a" stroke-width="2.4"/><path d="M990.8 2528.8H1015.2" stroke="#111" stroke-width="3"/><rect x="1014.0" y="2547.2" width="22" height="17.5" fill="#8a8a8a" stroke="#262626" stroke-width="2.4"/><path d="M1012.8 2547.2H1037.2" stroke="#7a7a7a" stroke-width="2.4"/><path d="M1012.8 2565.2H1037.2" stroke="#111" stroke-width="3"/><rect x="1036.0" y="2576.2" width="22" height="17.5" fill="#8a8a8a" stroke="#262626" stroke-width="2.4"/><path d="M1034.8 2576.2H1059.2" stroke="#7a7a7a" stroke-width="2.4"/><path d="M1034.8 2594.2H1059.2" stroke="#111" stroke-width="3"/><rect x="1057.0" y="2606.2" width="22" height="17.5" fill="#8a8a8a" stroke="#262626" stroke-width="2.4"/><path d="M1055.8 2606.2H1080.2" stroke="#7a7a7a" stroke-width="2.4"/><path d="M1055.8 2624.2H1080.2" stroke="#111" stroke-width="3"/><rect x="1080.0" y="2641.2" width="22" height="17.5" fill="#8a8a8a" stroke="#262626" stroke-width="2.4"/><path d="M1078.8 2641.2H1103.2" stroke="#7a7a7a" stroke-width="2.4"/><path d="M1078.8 2659.2H1103.2" stroke="#111" stroke-width="3"/><rect x="1101.0" y="2670.2" width="22" height="17.5" fill="#8a8a8a" stroke="#262626" stroke-width="2.4"/><path d="M1099.8 2670.2H1124.2" stroke="#7a7a7a" stroke-width="2.4"/><path d="M1099.8 2688.2H1124.2" stroke="#111" stroke-width="3"/><rect x="1123.0" y="2699.8" width="22" height="17.5" fill="#8a8a8a" stroke="#262626" stroke-width="2.4"/><path d="M1121.8 2699.8H1146.2" stroke="#7a7a7a" stroke-width="2.4"/><path d="M1121.8 2717.7H1146.2" stroke="#111" stroke-width="3"/><rect x="1144.0" y="2730.2" width="22" height="17.5" fill="#8a8a8a" stroke="#262626" stroke-width="2.4"/><path d="M1142.8 2730.2H1167.2" stroke="#7a7a7a" stroke-width="2.4"/><path d="M1142.8 2748.2H1167.2" stroke="#111" stroke-width="3"/><rect x="1165.5" y="2754.8" width="22" height="17.5" fill="#8a8a8a" stroke="#262626" stroke-width="2.4"/><path d="M1164.3 2754.8H1188.7" stroke="#7a7a7a" stroke-width="2.4"/><path d="M1164.3 2772.7H1188.7" stroke="#111" stroke-width="3"/><rect x="1187.0" y="2778.8" width="22" height="17.5" fill="#8a8a8a" stroke="#262626" stroke-width="2.4"/><path d="M1185.8 2778.8H1210.2" stroke="#7a7a7a" stroke-width="2.4"/><path d="M1185.8 2796.8H1210.2" stroke="#111" stroke-width="3"/><rect x="1208.0" y="2799.2" width="22" height="17.5" fill="#8a8a8a" stroke="#262626" stroke-width="2.4"/><path d="M1206.8 2799.2H1231.2" stroke="#7a7a7a" stroke-width="2.4"/><path d="M1206.8 2817.2H1231.2" stroke="#111" stroke-width="3"/><rect x="1231.0" y="2816.2" width="22" height="17.5" fill="#8a8a8a" stroke="#262626" stroke-width="2.4"/><path d="M1229.8 2816.2H1254.2" stroke="#7a7a7a" stroke-width="2.4"/><path d="M1229.8 2834.2H1254.2" stroke="#111" stroke-width="3"/><rect x="1251.5" y="2830.2" width="22" height="17.5" fill="#8a8a8a" stroke="#262626" stroke-width="2.4"/><path d="M1250.3 2830.2H1274.7" stroke="#7a7a7a" stroke-width="2.4"/><path d="M1250.3 2848.2H1274.7" stroke="#111" stroke-width="3"/><rect x="1273.5" y="2839.8" width="22" height="17.5" fill="#8a8a8a" stroke="#262626" stroke-width="2.4"/><path d="M1272.3 2839.8H1296.7" stroke="#7a7a7a" stroke-width="2.4"/><path d="M1272.3 2857.8H1296.7" stroke="#111" stroke-width="3"/><rect x="1295.0" y="2849.2" width="22" height="17.5" fill="#8a8a8a" stroke="#262626" stroke-width="2.4"/><path d="M1293.8 2849.2H1318.2" stroke="#7a7a7a" stroke-width="2.4"/><path d="M1293.8 2867.2H1318.2" stroke="#111" stroke-width="3"/><rect x="1318.0" y="2856.2" width="22" height="17.5" fill="#8a8a8a" stroke="#262626" stroke-width="2.4"/><path d="M1316.8 2856.2H1341.2" stroke="#7a7a7a" stroke-width="2.4"/><path d="M1316.8 2874.2H1341.2" stroke="#111" stroke-width="3"/><rect x="1339.0" y="2862.8" width="22" height="17.5" fill="#8a8a8a" stroke="#262626" stroke-width="2.4"/><path d="M1337.8 2862.8H1362.2" stroke="#7a7a7a" stroke-width="2.4"/><path d="M1337.8 2880.8H1362.2" stroke="#111" stroke-width="3"/><rect x="1359.0" y="2868.8" width="22" height="17.5" fill="#8a8a8a" stroke="#262626" stroke-width="2.4"/><path d="M1357.8 2868.8H1382.2" stroke="#7a7a7a" stroke-width="2.4"/><path d="M1357.8 2886.7H1382.2" stroke="#111" stroke-width="3"/><rect x="1379.0" y="2873.2" width="22" height="17.5" fill="#8a8a8a" stroke="#262626" stroke-width="2.4"/><path d="M1377.8 2873.2H1402.2" stroke="#7a7a7a" stroke-width="2.4"/><path d="M1377.8 2891.2H1402.2" stroke="#111" stroke-width="3"/></g>
<line x1="775.7" y1="2129" x2="1126.7" y2="2732" stroke="#0a0aff" stroke-width="5.5"/>
<path d="M243.0 2722.0H265.0M1780.5 2722.0H1756.5M243.0 2474.0H265.0M1780.5 2474.0H1756.5M243.0 2226.0H265.0M1780.5 2226.0H1756.5M243.0 1978.0H265.0M1780.5 1978.0H1756.5M627.4 2970.0V2946.0M1011.8 2970.0V2946.0M1396.1 2970.0V2946.0" stroke="#000" stroke-width="5" fill="none"/>
<text x="101.65" y="1741.5" font-size="74.0" letter-spacing="3.1">50</text>
<text x="103.0" y="1988.7" font-size="74.0" letter-spacing="1.4">40</text>
<text x="101.3" y="2236.5" font-size="74.0" letter-spacing="2.4">30</text>
<text x="102.0" y="2484.25" font-size="74.0" letter-spacing="2.0">20</text>
<text x="104.0" y="2732.5" font-size="74.0">10</text>
<text x="140.5" y="2980.5" font-size="74.0">0</text>
<text x="210.25" y="3052.0" font-size="74.0" letter-spacing="0.5">-8</text>
<text x="591.85" y="3052.0" font-size="74.0" letter-spacing="2.3">-9</text>
<text x="956.45" y="3049.8" font-size="74.0" letter-spacing="2.15">-10</text>
<text x="1349.2" y="3049.8" font-size="74.0" letter-spacing="-0.8">-11</text>
<text x="1728.0" y="3050.3" font-size="74.0" letter-spacing="1.5">-12</text>
<text x="1779.5" y="1763.8" font-size="68.5">3.699</text>
<text x="1781.7" y="1997.85" font-size="68.5">3.602</text>
<text x="1777.0" y="2248.7" font-size="68.5">3.478</text>
<text x="1787.7" y="2499.0" font-size="68.5">3.301</text>
<text x="1798.0" y="2739.15" font-size="68.5">3.00</text>
<text x="835.55" y="3167.0" font-size="68.89" font-style="italic" letter-spacing="3.61">Magnitude</text>
<text x="969.0" y="3316.65" font-size="85.44" letter-spacing="1.5">(<tspan font-weight="bold">b</tspan>)</text>
<text x="76.6" y="2759.85" font-size="69.35" font-style="italic" letter-spacing="3.2" transform="rotate(-90 76.6 2759.85)">Culmulative number of events</text>
<text x="1988.4" y="2795.15" font-size="57.83" font-style="italic" letter-spacing="4.08" transform="rotate(-90 1988.4 2795.15)">log10(Cumulative number of events)</text>
<text x="531.5 562.5 599.0 632.5 664.4 700.0" y="2201.0" font-size="59.5" fill="#1c1c8e">b=1.74</text>
<rect x="243.0" y="1730.0" width="1537.5" height="1240.0" fill="none" stroke="#000" stroke-width="5.5"/>
</g>
</svg></body></html>
